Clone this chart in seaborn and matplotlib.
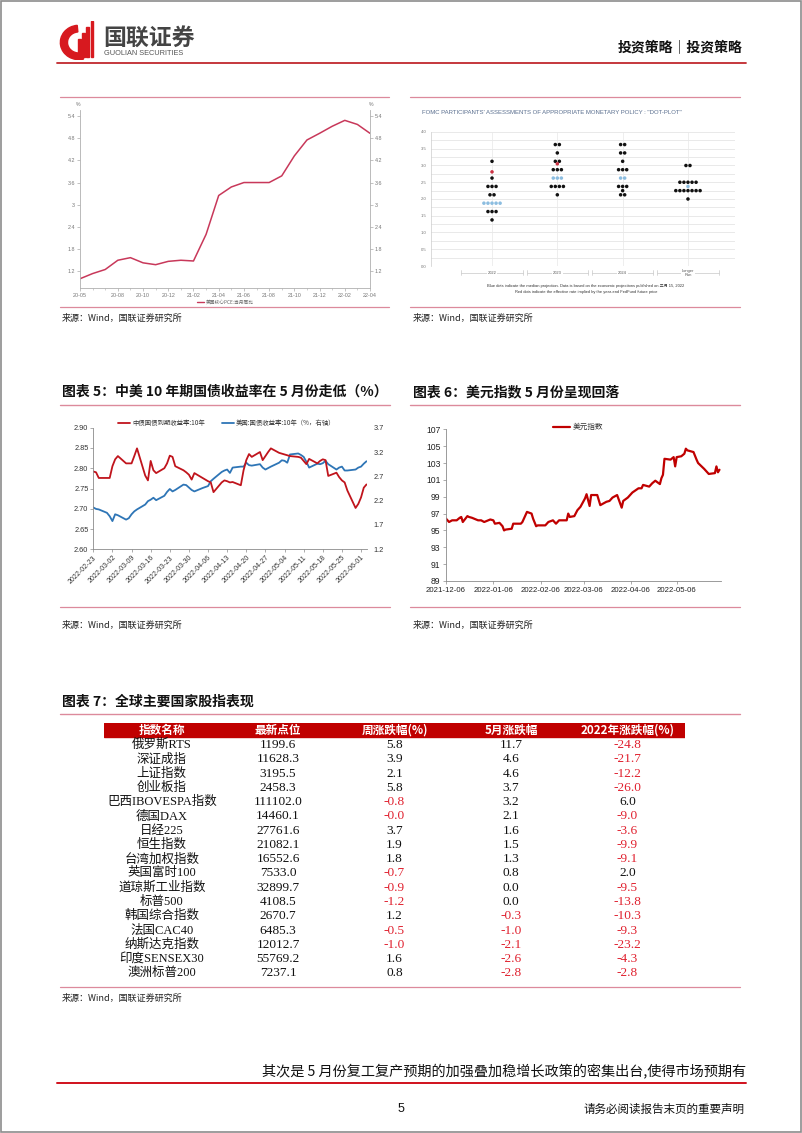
import math
import numpy as np
import pandas as pd
import matplotlib
matplotlib.use("Agg")
import matplotlib.pyplot as plt
import matplotlib.dates as mdates
from matplotlib.lines import Line2D
from matplotlib.patches import Rectangle, Wedge
import seaborn as sns

# ---------------- data ----------------
# chart: US core PCE yoy
pce_months = ['20-05', '20-06', '20-07', '20-08', '20-09', '20-10', '20-11', '20-12',
              '21-01', '21-02', '21-03', '21-04', '21-05', '21-06', '21-07', '21-08',
              '21-09', '21-10', '21-11', '21-12', '22-01', '22-02', '22-03', '22-04']
pce_values = [1.00, 1.14, 1.25, 1.50, 1.57, 1.43, 1.38, 1.47, 1.50, 1.48, 2.20, 3.25,
              3.48, 3.60, 3.60, 3.60, 3.78, 4.32, 4.75, 4.93, 5.12, 5.28, 5.17, 4.93]
pce_xtick_labels = ['20-05', '20-08', '20-10', '20-12', '21-02', '21-04', '21-06',
                    '21-08', '21-10', '21-12', '22-02', '22-04']
pce_yticks = [1.2, 1.8, 2.4, 3.0, 3.6, 4.2, 4.8, 5.4]
pce_ytick_labels = ['1.2', '1.8', '2.4', '3', '3.6', '4.2', '4.8', '5.4']
pce_legend = '美国核心PCE:当月同比'

# chart: FOMC dot plot
dot_categories = ['2022', '2023', '2024', 'Longer\nRun']
dot_black_cat = [0, 0, 0, 0, 0, 0, 1, 1, 1, 1, 1, 1, 2, 2, 2, 2, 2, 2, 2, 3, 3, 3, 3]
dot_black_rate = [3.125, 2.625, 2.375, 2.125, 1.625, 1.375,
                  3.625, 3.375, 3.125, 2.875, 2.375, 2.125,
                  3.625, 3.375, 3.125, 2.875, 2.375, 2.25, 2.125,
                  3.0, 2.5, 2.25, 2.0]
dot_black_n = [1, 1, 3, 2, 3, 1, 2, 1, 2, 3, 4, 1, 2, 2, 1, 3, 3, 1, 2, 2, 5, 7, 1]
dot_median_cat = [0, 1, 2, 3]
dot_median_rate = [1.875, 2.625, 2.625, 2.375]
dot_median_n = [5, 3, 2, 1]
dot_red_cat = [0, 1]
dot_red_rate = [2.81, 3.05]
dot_red_n = [1, 1]

# chart 5: China / US 10y yields (business days 2022-02-23 .. 2022-06-03)
cn10y = [2.792, 2.790, 2.776, 2.776,
         2.776, 2.805, 2.822, 2.830, 2.812, 2.812, 2.812, 2.830, 2.849, 2.782, 2.770, 2.818,
         2.795, 2.788, 2.800, 2.812, 2.831, 2.828, 2.805, 2.795, 2.790, 2.784, 2.772,
         2.788, 2.776, 2.772, 2.768, 2.765, 2.741, 2.765, 2.770, 2.768, 2.765, 2.766,
         2.758, 2.795, 2.820, 2.835, 2.828, 2.840, 2.820, 2.830, 2.840, 2.849,
         2.838, 2.836, 2.834, 2.832, 2.830, 2.828, 2.826, 2.818, 2.810, 2.823, 2.812,
         2.818, 2.822, 2.820, 2.781, 2.789, 2.778, 2.770, 2.765, 2.745, 2.702, 2.712,
         2.728, 2.752, 2.760]
us10y = [2.06, 2.03, 2.02, 1.95,
         1.88, 1.78, 1.92, 1.90, 1.81, 1.84, 1.92, 1.98, 2.02, 2.12, 2.19, 2.22,
         2.26, 2.21, 2.30, 2.38, 2.44, 2.39, 2.42, 2.53, 2.52, 2.47, 2.42,
         2.39, 2.46, 2.48, 2.50, 2.60, 2.65, 2.79, 2.82, 2.84, 2.77, 2.88,
         2.90, 2.90, 2.98, 2.93, 2.92, 2.95, 2.88, 2.84, 2.87, 2.90,
         2.98, 3.03, 3.02, 2.98, 3.15, 3.17, 3.14, 3.10, 3.00, 2.88, 2.96,
         2.95, 2.97, 3.02, 2.95, 2.84, 2.88, 2.90, 2.82, 2.82, 2.84, 2.88,
         2.90, 2.96, 3.01]
cn_yticks = [2.60, 2.65, 2.70, 2.75, 2.80, 2.85, 2.90]
us_yticks = [1.2, 1.7, 2.2, 2.7, 3.2, 3.7]
ch5_legend = ['中债国债到期收益率:10年', '美国:国债收益率:10年（%，右轴）']

# chart 6: US dollar index
dxy_dates = ['2021-12-06', '2021-12-08', '2021-12-10', '2021-12-13', '2021-12-15', '2021-12-16',
             '2021-12-17', '2021-12-20', '2021-12-21', '2021-12-23', '2021-12-27', '2021-12-29',
             '2021-12-31', '2022-01-04', '2022-01-06', '2022-01-07', '2022-01-10', '2022-01-12',
             '2022-01-13', '2022-01-14', '2022-01-18', '2022-01-19', '2022-01-24', '2022-01-25',
             '2022-01-28', '2022-01-31', '2022-02-01', '2022-02-03', '2022-02-04', '2022-02-09',
             '2022-02-11', '2022-02-14', '2022-02-16', '2022-02-18', '2022-02-23', '2022-02-24',
             '2022-02-25', '2022-02-28', '2022-03-02', '2022-03-04', '2022-03-07', '2022-03-08',
             '2022-03-10', '2022-03-11', '2022-03-15', '2022-03-17', '2022-03-21', '2022-03-23',
             '2022-03-25', '2022-03-28', '2022-03-31', '2022-04-01', '2022-04-04', '2022-04-07',
             '2022-04-11', '2022-04-13', '2022-04-14', '2022-04-18', '2022-04-20', '2022-04-22',
             '2022-04-25', '2022-04-26', '2022-04-27', '2022-04-28', '2022-05-02', '2022-05-04',
             '2022-05-05', '2022-05-06', '2022-05-09', '2022-05-11', '2022-05-12', '2022-05-13',
             '2022-05-17', '2022-05-19', '2022-05-20', '2022-05-24', '2022-05-26', '2022-05-27',
             '2022-05-31', '2022-06-01', '2022-06-02', '2022-06-03']
dxy_values = [96.4, 96.0, 96.2, 96.2, 96.5, 96.6,
              96.0, 96.7, 96.6, 96.5, 96.2, 96.2,
              96.0, 96.3, 96.2, 95.8, 95.9, 95.5,
              95.0, 95.1, 95.2, 95.8, 95.8, 96.0,
              97.2, 97.0, 96.4, 95.5, 95.6, 95.6,
              96.0, 96.2, 95.8, 96.2, 96.2, 97.0,
              96.6, 96.7, 97.4, 97.8, 98.8, 99.3,
              97.9, 99.2, 99.2, 98.0, 98.4, 98.5,
              98.9, 99.2, 97.7, 98.5, 98.9, 99.5,
              100.0, 100.0, 100.4, 100.2, 100.6, 100.9,
              100.5, 101.2, 101.6, 103.5, 103.4, 103.7,
              102.6, 103.7, 103.8, 104.1, 104.7, 104.5,
              104.3, 103.4, 103.0, 102.3, 101.9, 101.7,
              101.8, 102.6, 101.9, 102.2]
dxy_yticks = [89, 91, 93, 95, 97, 99, 101, 103, 105, 107]
dxy_xticks = ['2021-12-06', '2022-01-06', '2022-02-06', '2022-03-06', '2022-04-06', '2022-05-06']
dxy_legend = '美元指数'

# table 7
table_headers = ['指数名称', '最新点位', '周涨跌幅(%)', '5月涨跌幅', '2022年涨跌幅(%)']
idx_names = ['俄罗斯RTS', '深证成指', '上证指数', '创业板指', '巴西IBOVESPA指数', '德国DAX',
             '日经225', '恒生指数', '台湾加权指数', '英国富时100', '道琼斯工业指数', '标普500',
             '韩国综合指数', '法国CAC40', '纳斯达克指数', '印度SENSEX30', '澳洲标普200']
idx_latest = [1199.6, 11628.3, 3195.5, 2458.3, 111102.0, 14460.1, 27761.6, 21082.1, 16552.6,
              7533.0, 32899.7, 4108.5, 2670.7, 6485.3, 12012.7, 55769.2, 7237.1]
idx_week = [5.8, 3.9, 2.1, 5.8, -0.8, -0.0, 3.7, 1.9, 1.8, -0.7, -0.9, -1.2, 1.2, -0.5, -1.0, 1.6, 0.8]
idx_may = [11.7, 4.6, 4.6, 3.7, 3.2, 2.1, 1.6, 1.5, 1.3, 0.8, 0.0, 0.0, -0.3, -1.0, -2.1, -2.6, -2.8]
idx_ytd = [-24.8, -21.7, -12.2, -26.0, 6.0, -9.0, -3.6, -9.9, -9.1, 2.0, -9.5, -13.8, -10.3,
           -9.3, -23.2, -4.3, -2.8]

# ---------------- figure ----------------
sns.set_theme(style="ticks")
plt.rcParams['font.family'] = ['Noto Sans CJK SC', 'DejaVu Sans']
plt.rcParams['axes.unicode_minus'] = False

W, H = 802, 1133
fig = plt.figure(figsize=(W / 100, H / 100), dpi=100)
fig.patch.set_facecolor('white')

LAT = ['Liberation Sans', 'Noto Sans CJK SC']
SERIF = ['Liberation Serif', 'Noto Sans CJK SC']
PINK = '#dc8a9c'


def add_ax(x0, y0, x1, y1):
    return fig.add_axes([x0 / W, 1 - y1 / H, (x1 - x0) / W, (y1 - y0) / H])


def ftext(x, y, s, **kw):
    fig.text(x / W, 1 - y / H, s, **kw)


def hline(x0, x1, y, color, lw):
    fig.add_artist(Line2D([x0 / W, x1 / W], [1 - y / H, 1 - y / H], color=color, lw=lw,
                          transform=fig.transFigure))


# page frame
fig.add_artist(Rectangle((1 / W, 1 / H), (W - 2) / W, (H - 2) / H, fill=False,
                         ec='#8c8c8c', lw=1.2, transform=fig.transFigure))

# ---------------- header ----------------
axl = add_ax(57, 21, 99, 60)
axl.set_xlim(0, 1)
axl.set_ylim(0, 1)
axl.axis('off')
axl.add_patch(Wedge((0.52, 0.45), 0.44, 95, 285, width=0.17, color='#d7191f'))
for bx, bh in zip([0.50, 0.60, 0.70, 0.80], [0.55, 0.68, 0.84, 1.0]):
    axl.add_patch(Rectangle((bx, 0.08), 0.06, bh - 0.08, color='#d7191f'))
ftext(103, 38, '国联证券', fontsize=16.5, fontweight='bold', color='#444444', va='center')
ftext(104, 53.5, 'GUOLIAN SECURITIES', fontsize=5.3, color='#555555', va='center', family=LAT)
ftext(743, 48, '投资策略｜投资策略', fontsize=10, fontweight='bold', color='#111111',
      ha='right', va='center')
hline(57, 746, 62.5, '#c0282d', 1.3)

# ---------------- chart: core PCE ----------------
hline(60, 389, 97, PINK, 0.9)
hline(60, 389, 307, PINK, 0.9)
ax1 = add_ax(80, 110, 370, 288)
df_pce = pd.DataFrame({'m': np.arange(len(pce_months)), 'v': pce_values})
sns.lineplot(data=df_pce, x='m', y='v', ax=ax1, color='#c8385a', linewidth=1.1)
ax1.set_xlim(0, len(pce_months) - 1)
ax1.set_ylim(0.75, 5.56)
ax1.set_xticks([pce_months.index(l) for l in pce_xtick_labels])
ax1.set_xticklabels(pce_xtick_labels)
ax1.set_xticks(np.arange(len(pce_months)), minor=True)
ax1.set_yticks(pce_yticks)
ax1.set_yticklabels(pce_ytick_labels)
ax1.set_xlabel('')
ax1.set_ylabel('')
ax1.spines['top'].set_visible(False)
for s in ['left', 'right', 'bottom']:
    ax1.spines[s].set_color('#b0b0b0')
    ax1.spines[s].set_linewidth(0.6)
ax1.spines['right'].set_visible(True)
ax1.tick_params(axis='both', which='major', labelsize=3.9, labelcolor='#777777',
                color='#aaaaaa', length=2, width=0.5, pad=1.5)
ax1.tick_params(axis='x', which='minor', length=1.2, width=0.4, color='#aaaaaa')
for t in ax1.get_xticklabels() + ax1.get_yticklabels():
    t.set_family(LAT)
ax1r = ax1.twinx()
ax1r.set_ylim(ax1.get_ylim())
ax1r.set_yticks(pce_yticks)
ax1r.set_yticklabels(pce_ytick_labels)
ax1r.tick_params(axis='y', labelsize=3.9, labelcolor='#777777', color='#aaaaaa',
                 length=2, width=0.5, pad=1.5)
for t in ax1r.get_yticklabels():
    t.set_family(LAT)
for s in ax1r.spines.values():
    s.set_visible(False)
ftext(78, 105, '%', fontsize=3.8, color='#777777', ha='center', va='center', family=LAT)
ftext(371, 105, '%', fontsize=3.8, color='#777777', ha='center', va='center', family=LAT)
hline(197, 204, 302, '#c8385a', 1.0)
ftext(206, 302, pce_legend, fontsize=3.4, color='#666666', va='center')
ftext(62, 318, '来源：Wind，国联证券研究所', fontsize=6.5, color='#222222', va='center')

# ---------------- chart: dot plot ----------------
hline(410, 740, 97, PINK, 0.9)
hline(410, 740, 307, PINK, 0.9)
ftext(422, 113, 'FOMC PARTICIPANTS\' ASSESSMENTS OF APPROPRIATE MONETARY POLICY : "DOT-PLOT"',
      fontsize=4.3, color='#5a6f8f', va='center', family=LAT)
ax2 = add_ax(431, 132, 735, 266)
ax2.set_xlim(-0.934, 3.72)
ax2.set_ylim(0, 4)
for yv in np.arange(0, 4.001, 0.25):
    ax2.axhline(yv, color='#e0e0e0', lw=0.5, zorder=0)
for c in range(len(dot_categories)):
    ax2.axvline(c, color='#e8e8e8', lw=0.5, zorder=0)

step = 0.062
rows = []
for kind, cats, rates, ns in [('black', dot_black_cat, dot_black_rate, dot_black_n),
                              ('median', dot_median_cat, dot_median_rate, dot_median_n),
                              ('red', dot_red_cat, dot_red_rate, dot_red_n)]:
    for c, r, n in zip(cats, rates, ns):
        for k in range(n):
            rows.append({'x': c + (k - (n - 1) / 2) * step, 'y': r, 'kind': kind})
dots_df = pd.DataFrame(rows)
sns.scatterplot(data=dots_df, x='x', y='y', hue='kind',
                palette={'black': '#111111', 'median': '#8cbde0', 'red': '#cc3344'},
                s=6.5, edgecolor='none', legend=False, ax=ax2, zorder=3)
ax2.set_xlabel('')
ax2.set_ylabel('')
ax2.set_yticks(np.arange(0, 4.01, 0.5))
ax2.set_yticklabels(['%.1f' % v for v in np.arange(0, 4.01, 0.5)])
ax2.set_xticks([])
ax2.tick_params(axis='y', labelsize=3.1, labelcolor='#777777', length=0, pad=3)
for t in ax2.get_yticklabels():
    t.set_family(LAT)
for s in ['top', 'right', 'bottom']:
    ax2.spines[s].set_visible(False)
ax2.spines['left'].set_color('#cccccc')
ax2.spines['left'].set_linewidth(0.5)
for c, lab in enumerate(dot_categories):
    ax2.plot([c - 0.47, c + 0.47], [-0.2, -0.2], color='#c8c8c8', lw=0.5, clip_on=False)
    for ex in (c - 0.47, c + 0.47):
        ax2.plot([ex, ex], [-0.12, -0.28], color='#c8c8c8', lw=0.5, clip_on=False)
    ax2.text(c, -0.2, lab, ha='center', va='center', fontsize=2.9, color='#555555',
             family=LAT, linespacing=0.9, clip_on=False,
             bbox=dict(fc='white', ec='none', pad=0.6))
ftext(586, 286.5, 'Blue dots indicate the median projection. Data is based on the economic '
      'projections published on 三月 15, 2022', fontsize=2.9, color='#333333',
      ha='center', va='center', family=LAT)
ftext(586, 291.5, 'Red dots indicate the effective rate implied by the year-end FedFund future price',
      fontsize=2.9, color='#333333', ha='center', va='center', family=LAT)
ftext(413, 318, '来源：Wind，国联证券研究所', fontsize=6.5, color='#222222', va='center')

# ---------------- chart 5 ----------------
ftext(62, 392, '图表 5：中美 10 年期国债收益率在 5 月份走低（%）', fontsize=10,
      fontweight='bold', color='#111111', va='center')
hline(60, 390, 405, PINK, 1.0)
hline(60, 390, 607, PINK, 0.9)
ax5 = add_ax(93.3, 427.7, 366.5, 549.3)
dates5 = pd.bdate_range('2022-02-23', '2022-06-03')
df5 = pd.DataFrame({'date': dates5, 'cn': cn10y, 'us': us10y})
ax5b = ax5.twinx()
sns.lineplot(data=df5, x='date', y='us', ax=ax5b, color='#2e75b6', linewidth=1.3)
sns.lineplot(data=df5, x='date', y='cn', ax=ax5, color='#c0141c', linewidth=1.3)
ax5.set_zorder(ax5b.get_zorder() + 1)
ax5.patch.set_visible(False)
ax5.set_xlim(mdates.date2num(pd.Timestamp('2022-02-23')), mdates.date2num(pd.Timestamp('2022-06-03')))
ax5.set_ylim(2.60, 2.90)
ax5.set_yticks(cn_yticks)
ax5.set_yticklabels(['%.2f' % v for v in cn_yticks])
ax5b.set_ylim(1.2, 3.7)
ax5b.set_yticks(us_yticks)
ax5b.set_yticklabels(['%.1f' % v for v in us_yticks])
wk = pd.date_range('2022-02-23', '2022-06-01', freq='7D')
ax5.set_xticks(mdates.date2num(wk))
ax5.set_xticklabels([d.strftime('%Y-%m-%d') for d in wk], rotation=45, ha='right',
                    rotation_mode='anchor')
for a in (ax5, ax5b):
    a.set_xlabel('')
    a.set_ylabel('')
for s in ['top', 'right']:
    ax5.spines[s].set_visible(False)
for s in ['left', 'bottom']:
    ax5.spines[s].set_color('#8a8a8a')
    ax5.spines[s].set_linewidth(0.6)
for s in ax5b.spines.values():
    s.set_visible(False)
ax5.tick_params(axis='y', labelsize=5.3, labelcolor='#333333', color='#8a8a8a', length=2,
                width=0.5, pad=1.5)
ax5.tick_params(axis='x', labelsize=5.0, labelcolor='#333333', color='#8a8a8a', length=2,
                width=0.5, pad=1.5)
ax5b.tick_params(axis='y', labelsize=5.3, labelcolor='#333333', length=0, pad=5)
for t in ax5.get_xticklabels() + ax5.get_yticklabels() + ax5b.get_yticklabels():
    t.set_family(LAT)
hline(118, 130, 422.7, '#c0141c', 1.3)
ftext(132, 422.7, ch5_legend[0], fontsize=4.6, color='#333333', va='center')
hline(222, 233.5, 422.7, '#2e75b6', 1.3)
ftext(235.5, 422.7, ch5_legend[1], fontsize=4.6, color='#333333', va='center')
ftext(62, 625, '来源：Wind，国联证券研究所', fontsize=6.5, color='#222222', va='center')

# ---------------- chart 6 ----------------
ftext(413, 392, '图表 6：美元指数 5 月份呈现回落', fontsize=10, fontweight='bold',
      color='#111111', va='center')
hline(410, 740, 405, PINK, 1.0)
hline(410, 740, 607, PINK, 0.9)
ax6 = add_ax(446, 429.3, 721, 581)
df6 = pd.DataFrame({'date': pd.to_datetime(dxy_dates), 'v': dxy_values})
sns.lineplot(data=df6, x='date', y='v', ax=ax6, color='#c00000', linewidth=1.6)
ax6.set_ylim(89, 107)
ax6.set_yticks(dxy_yticks)
ax6.set_yticklabels([str(v) for v in dxy_yticks])
ax6.set_xlim(mdates.date2num(pd.Timestamp('2021-12-06')), mdates.date2num(pd.Timestamp('2022-06-04')))
xt6 = pd.to_datetime(dxy_xticks)
ax6.set_xticks(mdates.date2num(xt6))
ax6.set_xticklabels(dxy_xticks)
ax6.set_xlabel('')
ax6.set_ylabel('')
for s in ['top', 'right']:
    ax6.spines[s].set_visible(False)
for s in ['left', 'bottom']:
    ax6.spines[s].set_color('#8a8a8a')
    ax6.spines[s].set_linewidth(0.6)
ax6.tick_params(axis='y', labelsize=6.2, labelcolor='#222222', color='#8a8a8a', length=2,
                width=0.5, pad=2)
ax6.tick_params(axis='x', labelsize=5.6, labelcolor='#222222', color='#8a8a8a', length=2,
                width=0.5, pad=2)
for t in ax6.get_xticklabels() + ax6.get_yticklabels():
    t.set_family(LAT)
hline(553, 570, 426.7, '#c00000', 1.6)
ftext(573, 426.7, dxy_legend, fontsize=5.5, color='#333333', va='center')
ftext(413, 625, '来源：Wind，国联证券研究所', fontsize=6.5, color='#222222', va='center')

# ---------------- table 7 ----------------
ftext(62, 702, '图表 7：全球主要国家股指表现', fontsize=10, fontweight='bold',
      color='#111111', va='center')
hline(60, 740, 714, PINK, 1.0)
hline(60, 740, 987, PINK, 0.9)
axt = add_ax(103.6, 722.9, 685.5, 979.8)
axt.set_xlim(0, 5)
axt.set_ylim(16.5, -1.5)
axt.axis('off')
axt.axhspan(-1.5, -0.5, color='#c00000', zorder=0)
for j, h in enumerate(table_headers):
    axt.text(j + 0.5, -1, h, ha='center', va='center', color='white', fontsize=8.4,
             fontweight='bold')
RED = '#e0202e'
for i, name in enumerate(idx_names):
    axt.text(0.5, i + 0.05, name, ha='center', va='center', fontsize=9.0, color='#111111',
             family=SERIF)
    axt.text(1.5, i + 0.05, '%.1f' % idx_latest[i], ha='center', va='center', fontsize=9.6,
             color='#111111', family=SERIF)
    for j, col in enumerate([idx_week, idx_may, idx_ytd]):
        v = col[i]
        colr = RED if math.copysign(1, v) < 0 else '#111111'
        axt.text(2.5 + j, i + 0.05, '%.1f' % v, ha='center', va='center', fontsize=9.6,
                 color=colr, family=SERIF)
ftext(62, 998, '来源：Wind，国联证券研究所', fontsize=6.5, color='#222222', va='center')

# ---------------- footer ----------------
ftext(746, 1072, '其次是 5 月份复工复产预期的加强叠加稳增长政策的密集出台,使得市场预期有',
      fontsize=10.2, color='#111111', ha='right', va='center')
hline(57, 746, 1083, '#d0101c', 1.4)
ftext(401, 1109, '5', fontsize=9, color='#111111', ha='center', va='center', family=LAT)
ftext(744, 1109, '请务必阅读报告末页的重要声明', fontsize=8.3, color='#111111', ha='right',
      va='center')

fig.savefig('out.png', dpi=100)
